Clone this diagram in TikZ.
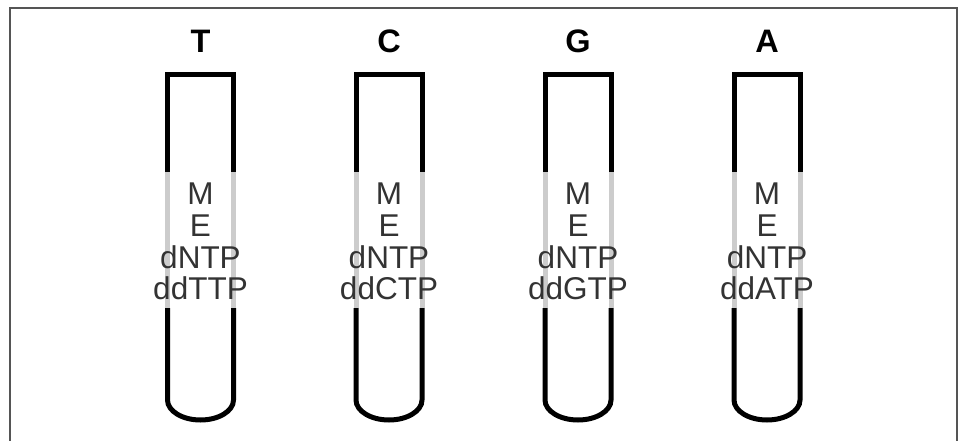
\documentclass[tikz,border=0pt]{standalone}
\usepackage{fontspec}
\setmainfont{Liberation Sans}
\begin{document}
\begin{tikzpicture}[x=1pt,y=-1pt,
  wall/.style={line width=5pt,black},
  window/.style={line width=5pt,draw={rgb,255:red,204;green,204;blue,204}},
  reagent/.style={anchor=base,inner sep=0pt,text={rgb,255:red,51;green,51;blue,51},font=\fontsize{31.5}{33}\selectfont},
  lane/.style={anchor=base,inner sep=0pt,font=\fontsize{32.5}{34}\selectfont\bfseries}]
\useasboundingbox (0,0) rectangle (963,441);
% outer frame (open at the bottom)
\draw[line width=1.5pt,draw={rgb,255:red,85;green,85;blue,85}] (10,441) -- (10,8) -- (957,8) -- (957,441);
% one tube per sequencing reaction
\foreach \cx/\base/\nm in {200.5/T/t,389/C/c,578/G/g,767/A/a}{
  \pgfmathsetmacro{\L}{\cx-33}
  \pgfmathsetmacro{\R}{\cx+33}
  \node[lane] (lab\nm) at (\cx,53) {\base};
  \coordinate (tl\nm) at (\L,74.5);
  \coordinate (tr\nm) at (\R,74.5);
  \draw[wall,line join=miter] (\L,172) -- (tl\nm) -- (tr\nm) -- (\R,172);
  \draw[window] (\L,172) -- (\L,308);
  \draw[window] (\R,172) -- (\R,308);
  \draw[wall] (\L,308) -- (\L,400) arc[start angle=180,end angle=0,x radius=33,y radius=20] -- (\R,308);
  \node[reagent] (m\nm) at (\cx,204) {M};
  \node[reagent] (e\nm) at (\cx,236) {E};
  \node[reagent] (n\nm) at (\cx,268) {dNTP};
  \node[reagent] (d\nm) at (\cx,299) {dd\base TP};
}
\end{tikzpicture}
\end{document}
